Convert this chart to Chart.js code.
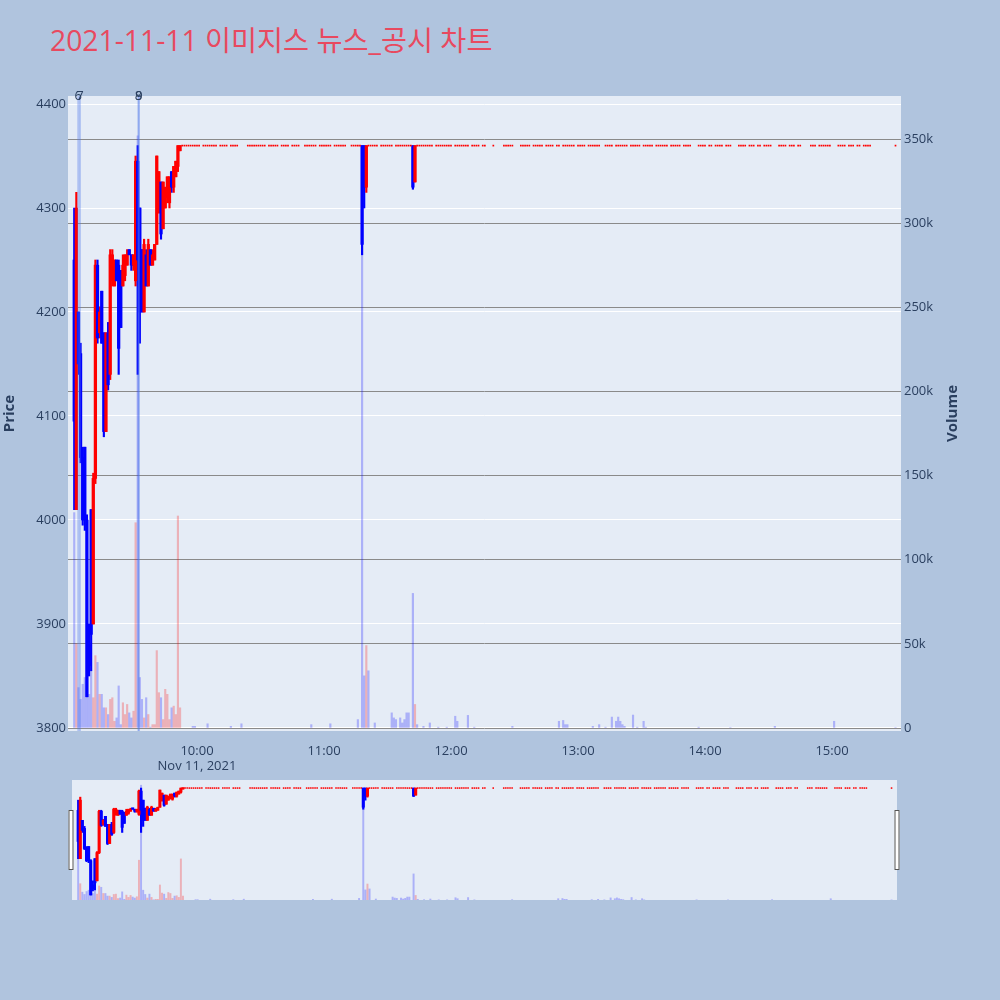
<!DOCTYPE html>
<html>
<head>
<meta charset="utf-8">
<script src="https://cdn.jsdelivr.net/npm/chart.js@4"></script>
<style>
html,body{margin:0;padding:0;background:#B0C4DE;width:1000px;height:1000px;overflow:hidden;}
#title{position:absolute;left:50px;top:20px;font-family:"Open Sans","Noto Sans CJK KR",sans-serif;font-size:28.3px;line-height:40px;color:#E8495F;white-space:nowrap;}
#mainWrap{position:absolute;left:0;top:0;width:1000px;height:780px;}
#sliderWrap{position:absolute;left:60px;top:776px;width:850px;height:128px;}
</style>
</head>
<body>
<div id="title">2021-11-11 이미지스 뉴스_공시 차트</div>
<div id="mainWrap"><canvas id="main" width="1000" height="780"></canvas></div>
<div id="sliderWrap"><canvas id="slider" width="850" height="128"></canvas></div>
<script>
// ---------------- DATA (minutes after 09:00) ----------------
const CANDLE_MIN = [2,3,4,5,6,7,8,9,10,11,12,13,14,15,16,17,18,19,20,21,22,23,24,25,26,27,28,29,30,31,32,33,34,35,36,37,38,39,40,41,42,43,44,45,46,47,48,49,50,51,52,138,139,140,162,163];
const OPEN  = [4250,4010,4200,4160,4060,4070,4000,3880,4010,3900,4040,4245,4180,4220,4180,4085,4180,4140,4230,4225,4250,4245,4240,4225,4235,4245,4260,4255,4245,4230,4345,4300,4260,4200,4255,4225,4260,4245,4250,4265,4300,4325,4280,4300,4310,4305,4335,4320,4330,4340,4355,4360,4360,4320,4360,4325];
const HIGH  = [4300,4315,4200,4170,4070,4070,4005,3900,4010,4045,4250,4250,4205,4220,4180,4180,4190,4260,4260,4250,4250,4250,4240,4255,4255,4260,4260,4255,4255,4350,4360,4300,4260,4270,4260,4270,4260,4260,4265,4350,4335,4325,4325,4320,4330,4330,4335,4340,4345,4360,4360,4360,4360,4360,4360,4360];
const LOW   = [4010,4010,4140,4055,3995,3990,3830,3850,3855,3900,4035,4170,4175,4170,4080,4085,4125,4135,4225,4225,4230,4140,4185,4225,4230,4245,4255,4240,4240,4225,4140,4170,4200,4200,4225,4225,4245,4245,4250,4265,4295,4270,4280,4300,4305,4300,4315,4315,4330,4335,4355,4255,4300,4315,4318,4325];
const CLOSE = [4095,4300,4150,4060,4000,4000,3830,3860,3890,4040,4245,4175,4200,4170,4085,4180,4130,4255,4255,4250,4230,4165,4185,4245,4255,4255,4255,4245,4255,4345,4250,4200,4200,4265,4225,4265,4245,4255,4265,4350,4335,4275,4325,4320,4330,4330,4320,4340,4345,4360,4360,4265,4320,4360,4320,4360];
const VOLUME = [128000,50000,24000,17000,26000,30000,28000,20000,34000,18000,43000,39000,20000,20000,12000,12000,8000,17000,18000,4000,6000,25000,2000,15000,8000,14000,9000,6000,10000,122000,352000,30000,17000,6000,18000,8000,500,2000,2000,46000,21000,18000,5000,23000,20000,5000,12000,13000,8000,126000,12000,340000,31000,49000,80000,14000];

// minutes with single trades at the upper-limit price
const LIMIT_PRICE = 4360;
const FLAT_MIN = [53,54,55,56,57,58,59,60,61,63,64,65,66,67,68,69,71,72,73,74,76,77,78,79,
84,85,86,87,88,89,90,91,92,94,95,96,97,98,100,101,102,103,105,106,107,108,
111,112,113,114,115,116,118,119,120,121,122,123,125,126,127,128,129,130,133,134,135,136,137,
141,142,143,144,145,147,148,149,150,151,152,154,155,156,157,158,159,160,161,
164,165,166,167,168,169,170,171,173,174,175,176,177,178,179,180,182,183,184,185,186,187,188,190,191,192,193,195,196,
200,205,206,207,208,209,213,214,215,216,217,219,220,221,222,223,225,226,227,228,230,231,
233,234,235,236,237,238,240,241,242,243,245,246,247,248,249,250,253,254,255,256,
258,259,260,261,262,263,265,266,267,268,269,271,272,273,274,275,277,278,279,280,281,282,284,285,286,287,288,290,291,292,293,
297,298,299,300,302,303,305,306,307,308,310,311,312,316,317,318,319,321,322,323,325,326,
328,329,330,331,335,336,337,338,340,341,342,344,345,350,351,352,354,355,356,357,358,359,
363,364,365,366,368,369,370,372,373,375,376,377,378,390];
const FLAT_VOL_MIN = [58,59,65,76,81,114,123,136,141,144,152,153,154,156,157,158,159,160,164,167,170,174,178,182,183,188,191,209,231,233,234,235,247,250,253,256,258,259,260,261,262,266,268,271,272,297,312,333,361,390];
const FLAT_VOL = [1000,1000,2500,1000,2500,2000,2500,5000,34000,3000,9000,6000,5000,6000,3000,5000,9000,9000,2000,1000,3000,500,500,7000,4000,7500,500,1000,4000,4500,2000,2000,1000,2000,500,6500,4000,6500,4000,2000,1000,7700,500,4000,500,500,300,1000,4000,300];

// news / disclosure markers
const NEWS_MIN = [3.9, 4.7, 32.3, 32.6];
const NEWS_LABELS = ['6', '7', '8', '9'];

const PRICE_TICKS = [3800,3900,4000,4100,4200,4300,4400];
const VOLUME_TICKS = [0,50000,100000,150000,200000,250000,300000,350000];
const TIME_TICKS = [600,660,720,780,840,900];
const DATE_LABEL = 'Nov 11, 2021';

// ---------------- STYLE ----------------
const FONT = '"Open Sans", "Noto Sans", sans-serif';
const TXT = '#2a3f5f';
const UP = '#FF0000', DOWN = '#0000FF';
const UP_VOL = 'rgba(255,0,0,0.25)', DOWN_VOL = 'rgba(0,0,255,0.25)';
const BASE = 540; // 09:00
const X_MIN = 539.06, X_MAX = 932.6;

function hhmm(v){const h=Math.floor(v/60),m=Math.round(v%60);return String(h).padStart(2,'0')+':'+String(m).padStart(2,'0');}

function buildDatasets(pid, vid, s){
  const dir = CANDLE_MIN.map((m,i)=> CLOSE[i] > OPEN[i]);
  const volData = CANDLE_MIN.map((m,i)=>({x:BASE+m, y:VOLUME[i]}))
      .concat(FLAT_VOL_MIN.map((m,i)=>({x:BASE+m, y:FLAT_VOL[i]})));
  const volCol = dir.map(d=> d?UP_VOL:DOWN_VOL).concat(FLAT_VOL_MIN.map(()=>DOWN_VOL));
  return [
    {type:'bar', label:'Volume', yAxisID:vid, data:volData, backgroundColor:volCol,
     barThickness:s.vol, grouped:false, order:4, borderWidth:0},
    {type:'bar', label:'wick', yAxisID:pid, data:CANDLE_MIN.map((m,i)=>({x:BASE+m, y:[LOW[i],HIGH[i]]})),
     backgroundColor:dir.map(d=>d?UP:DOWN), barThickness:s.wick, grouped:false, order:3, borderWidth:0, minBarLength:1},
    {type:'bar', label:'body', yAxisID:pid, data:CANDLE_MIN.map((m,i)=>({x:BASE+m, y:[OPEN[i],CLOSE[i]]})),
     backgroundColor:dir.map(d=>d?UP:DOWN), barThickness:s.body, grouped:false, order:2, borderWidth:0, minBarLength:1.5},
    {type:'scatter', label:'limit', yAxisID:pid, data:FLAT_MIN.map(m=>({x:BASE+m, y:LIMIT_PRICE})),
     backgroundColor:UP, borderWidth:0, pointStyle:'rect', pointRadius:s.dot, pointHoverRadius:s.dot, showLine:false, order:1}
  ];
}

const bgPlugin = {
  id:'bg',
  beforeDraw(chart){
    const {ctx, chartArea:a} = chart;
    ctx.save(); ctx.fillStyle='#E5ECF6';
    ctx.fillRect(a.left, a.top, a.right-a.left, a.bottom-a.top);
    ctx.restore();
  }
};

const newsPlugin = {
  id:'news',
  afterDatasetsDraw(chart){
    const {ctx, chartArea:a, scales} = chart;
    ctx.save();
    NEWS_MIN.forEach((m,i)=>{
      const x = scales.x.getPixelForValue(BASE+m);
      ctx.strokeStyle='rgba(80,120,235,0.35)'; ctx.lineWidth=2;
      ctx.beginPath(); ctx.moveTo(x,a.top); ctx.lineTo(x,a.bottom); ctx.stroke();
    });
    ctx.fillStyle=TXT; ctx.font='13px '+FONT; ctx.textAlign='center'; ctx.textBaseline='middle';
    NEWS_MIN.forEach((m,i)=>{
      const x = scales.x.getPixelForValue(BASE+m);
      ctx.fillText(NEWS_LABELS[i], x, a.top);
    });
    ctx.restore();
  },
  afterDraw(chart){
    const {ctx, chartArea:a} = chart;
    const cy = (a.top+a.bottom)/2;
    ctx.save(); ctx.fillStyle=TXT; ctx.font='bold 15px '+FONT; ctx.textAlign='center'; ctx.textBaseline='middle';
    ctx.translate(10, cy); ctx.rotate(-Math.PI/2); ctx.fillText('Price',0,0); ctx.restore();
    ctx.save(); ctx.fillStyle=TXT; ctx.font='bold 15px '+FONT; ctx.textAlign='center'; ctx.textBaseline='middle';
    ctx.translate(953, cy); ctx.rotate(-Math.PI/2); ctx.fillText('Volume',0,0); ctx.restore();
  }
};

new Chart(document.getElementById('main'), {
  data:{datasets:buildDatasets('y','yv',{vol:1.5,wick:1.5,body:2.6,dot:1.2})},
  options:{
    responsive:false, animation:false, devicePixelRatio:1,
    layout:{padding:{top:96,left:0,right:0,bottom:0}},
    plugins:{legend:{display:false}, tooltip:{enabled:false}},
    scales:{
      x:{type:'linear', min:X_MIN, max:X_MAX, offset:false, grid:{display:false, offset:false}, border:{display:false},
         afterBuildTicks:s=>{s.ticks = TIME_TICKS.map(v=>({value:v}));},
         afterFit:s=>{s.height = 780-731;},
         ticks:{autoSkip:false, maxRotation:0, padding:4, color:TXT, font:{size:13,family:FONT},
                callback:(v)=> v===TIME_TICKS[0] ? [hhmm(v), DATE_LABEL] : hhmm(v)}},
      y:{type:'linear', position:'left', min:3797.1, max:4407.7,
         grid:{color:'#ffffff', lineWidth:1, drawTicks:false}, border:{display:false},
         afterBuildTicks:s=>{s.ticks = PRICE_TICKS.map(v=>({value:v}));},
         afterFit:s=>{s.width = 68;},
         ticks:{padding:2, color:TXT, font:{size:13,family:FONT}, callback:v=>String(v)}},
      yv:{type:'linear', position:'right', min:-1780, max:375600,
         grid:{color:'#8a8a8a', lineWidth:1, drawTicks:false}, border:{display:false},
         afterBuildTicks:s=>{s.ticks = VOLUME_TICKS.map(v=>({value:v}));},
         afterFit:s=>{s.width = 99;},
         ticks:{padding:3, color:TXT, font:{size:13,family:FONT}, callback:v=> v===0 ? '0' : (v/1000)+'k'}}
    }
  },
  plugins:[bgPlugin, newsPlugin]
});

const handlePlugin = {
  id:'handles',
  afterDraw(chart){
    const {ctx, chartArea:a} = chart;
    ctx.save(); ctx.fillStyle='#ffffff'; ctx.strokeStyle='#555'; ctx.lineWidth=1;
    [a.left-3.5, a.right-2.5].forEach(x=>{
      ctx.fillRect(x, a.top+30, 5, 60);
      ctx.strokeRect(x+0.5, a.top+30.5, 4, 59);
    });
    ctx.restore();
  }
};

new Chart(document.getElementById('slider'), {
  data:{datasets:buildDatasets('py','pv',{vol:1.3,wick:1.5,body:2.4,dot:1.1})},
  options:{
    responsive:false, animation:false, devicePixelRatio:1,
    layout:{padding:{top:4,left:12,right:13,bottom:4}},
    plugins:{legend:{display:false}, tooltip:{enabled:false}},
    scales:{
      x:{type:'linear', min:X_MIN, max:X_MAX, offset:false, display:false},
      py:{type:'linear', min:3805, max:4400, display:false},
      pv:{type:'linear', min:0, max:368000, display:false}
    }
  },
  plugins:[bgPlugin, handlePlugin]
});
</script>
</body>
</html>
